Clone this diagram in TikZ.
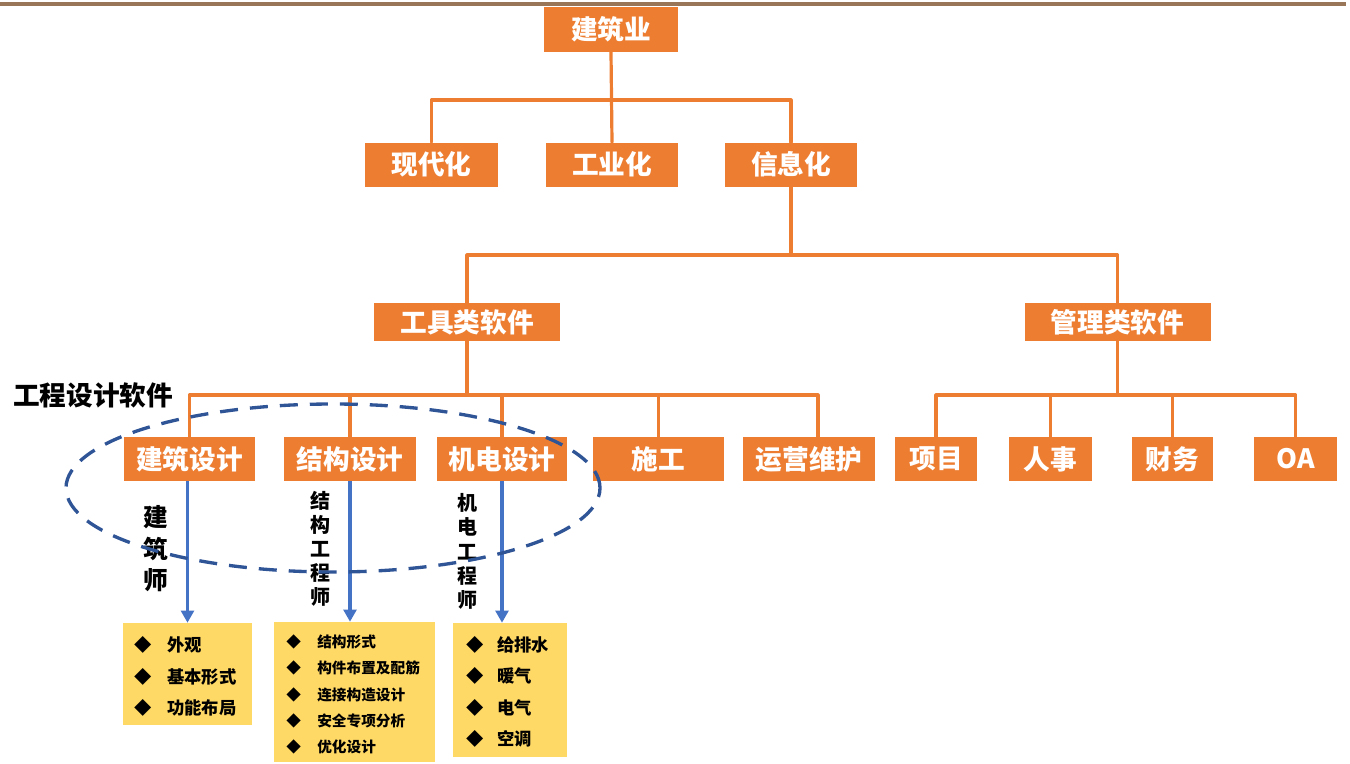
\documentclass[tikz,border=0pt]{standalone}
\usepackage{fontspec}
\setmainfont{Noto Sans CJK SC}
\usetikzlibrary{arrows.meta}
\definecolor{org}{HTML}{ED7D31}
\definecolor{blu}{HTML}{4472C4}
\definecolor{dblu}{HTML}{2F5597}
\definecolor{ylw}{HTML}{FFD966}
\definecolor{brn}{HTML}{9A7658}
\newcommand\fsz[2]{\fontsize{#1}{#2}\selectfont}
\begin{document}
\begin{tikzpicture}[x=0.75pt,y=-0.75pt,
  obox/.style={fill=org,text=white,font=\bfseries\fsz{20}{24},inner sep=0pt,minimum height=33pt},
  conn/.style={draw=org,line width=2.4pt,line join=round,line cap=round},
  barr/.style={draw=blu,line width=2.3pt,-{Triangle[length=9pt,width=9.5pt]}},
  ybox/.style={fill=ylw,inner sep=0pt},
  ylist/.style={anchor=west,align=left,inner sep=0pt,text=black},
  vlab/.style={align=center,inner sep=0pt,text=black},
  ell/.style={draw=dblu,line width=2.5pt,dash pattern=on 13.5pt off 9pt}]
\useasboundingbox (0,0) rectangle (1350,764);
\draw[brn,line width=2.6pt] (0,4) -- (1346,4);

% level 0
\node[obox,minimum width=100.5pt,minimum height=33.75pt] (jzy) at (611,29.5) {建筑业};
% level 1
\node[obox,minimum width=99.75pt] (xdh) at (431.5,164.5) {现代化};
\node[obox,minimum width=99pt] (gyh) at (612,164.5) {工业化};
\node[obox,minimum width=99pt] (xxh) at (791,164.5) {信息化};
% level 2
\node[obox,minimum width=139.5pt,minimum height=28.5pt] (gjl) at (467,322) {工具类软件};
\node[obox,minimum width=139.5pt,minimum height=28.5pt] (gll) at (1117.5,322) {管理类软件};
% level 3
\node[obox,minimum width=98.25pt] (jzsj) at (189.5,459) {建筑设计};
\node[obox,minimum width=99pt] (jgsj) at (350,459) {结构设计};
\node[obox,minimum width=97.5pt] (jdsj) at (502,459) {机电设计};
\node[obox,minimum width=98.25pt] (sg) at (658.5,459) {施工};
\node[obox,minimum width=99pt] (yywh) at (809,459) {运营维护};
\node[obox,minimum width=61.5pt] (xm) at (936,459) {项目};
\node[obox,minimum width=62.25pt] (rs) at (1050.5,459) {人事};
\node[obox,minimum width=60.75pt] (cw) at (1172.5,459) {财务};
\node[obox,minimum width=62.25pt] (oa) at (1295.5,459) {OA};

\node[anchor=west,inner sep=0pt,font=\bfseries\fsz{20}{24}] (gcsj) at (13,395) {工程设计软件};

% bus coordinates
\coordinate (b1) at (0,100);
\coordinate (b2) at (0,255);
\coordinate (b3) at (0,395);
\coordinate (yyt) at ([xshift=6.75pt]yywh.north);

\draw[conn] (jzy.south) -- (gyh.north);
\draw[conn] (xdh.north) -- (xdh.north |- b1) -- (xxh.north |- b1) -- (xxh.north);
\draw[conn] (xxh.south) -- (xxh.south |- b2);
\draw[conn] (gjl.north) -- (gjl.north |- b2) -- (gll.north |- b2) -- (gll.north);
\draw[conn] (gjl.south) -- (gjl.south |- b3);
\draw[conn] (jzsj.north) -- (jzsj.north |- b3) -- (yyt |- b3) -- (yyt);
\draw[conn] (jgsj.north) -- (jgsj.north |- b3);
\draw[conn] (jdsj.north) -- (jdsj.north |- b3);
\draw[conn] (sg.north) -- (sg.north |- b3);
\draw[conn] (gll.south) -- (gll.south |- b3);
\draw[conn] (xm.north) -- (xm.north |- b3) -- (oa.north |- b3) -- (oa.north);
\draw[conn] (rs.north) -- (rs.north |- b3);
\draw[conn] (cw.north) -- (cw.north |- b3);

% yellow boxes
\node[ybox,minimum width=96.75pt,minimum height=76.5pt] (y1) at (187.5,674) {};
\node[ybox,minimum width=120.75pt,minimum height=105pt] (y2) at (354.5,692) {};
\node[ybox,minimum width=85.5pt,minimum height=100.5pt] (y3) at (510,690) {};

\node[ylist,font=\bfseries\fsz{13}{23.6}] (t1) at (134,676.5)
  {\makebox[24.75pt][l]{◆}外观\\\makebox[24.75pt][l]{◆}基本形式\\\makebox[24.75pt][l]{◆}功能布局};
\node[ylist,font=\bfseries\fsz{11}{19.7}] (t2) at (286,694.5)
  {\makebox[23.25pt][l]{◆}结构形式\\\makebox[23.25pt][l]{◆}构件布置及配筋\\\makebox[23.25pt][l]{◆}连接构造设计\\\makebox[23.25pt][l]{◆}安全专项分析\\\makebox[23.25pt][l]{◆}优化设计};
\node[ylist,font=\bfseries\fsz{13}{23.5}] (t3) at (466,692)
  {\makebox[23.25pt][l]{◆}给排水\\\makebox[23.25pt][l]{◆}暖气\\\makebox[23.25pt][l]{◆}电气\\\makebox[23.25pt][l]{◆}空调};

% arrows
\draw[barr] (jzsj.south -| y1.north) -- (y1.north);
\draw[barr] (jgsj.south) -- (jgsj.south |- y2.north);
\draw[barr] (jdsj.south) -- (jdsj.south |- y3.north);

% vertical labels
\node[vlab,font=\bfseries\fsz{18.5}{23.6}] (v1) at (155.5,549) {建\\筑\\师};
\node[vlab,font=\bfseries\fsz{15}{18}] (v2) at (320,549) {结\\构\\工\\程\\师};
\node[vlab,font=\bfseries\fsz{15}{18.2}] (v3) at (467,551.5) {机\\电\\工\\程\\师};

% dashed ellipse
\draw[ell] (333,488) ellipse [x radius=200.25pt, y radius=63pt];
\end{tikzpicture}
\end{document}
